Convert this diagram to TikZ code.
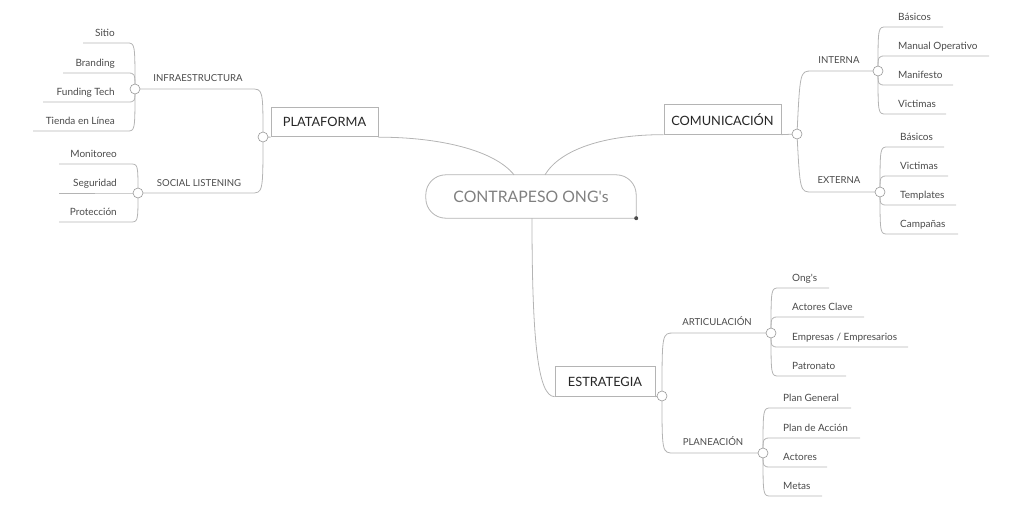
\documentclass[tikz,border=0pt]{standalone}
\usepackage{fontspec}
\setmainfont{Lato}
\usetikzlibrary{backgrounds}
\definecolor{linegray}{HTML}{B4B4B4}
\definecolor{txtgray}{HTML}{4A4A4A}
\begin{document}
\begin{tikzpicture}[x=1pt,y=-1pt,
	link/.style={draw=linegray,line width=.8pt},
	knob/.style={circle,draw=gray!80,fill=white,line width=.6pt,minimum size=10pt,inner sep=0pt},
	topic/.style={draw=linegray,line width=.8pt,fill=white,minimum height=29.5pt,inner sep=0pt,font=\fontsize{12.8}{14}\selectfont,text=black!85},
	sub/.style={anchor=base,font=\fontsize{9.6}{11}\selectfont,text=txtgray},
	leaf/.style={font=\fontsize{10}{12}\selectfont,text=txtgray,inner sep=0pt}]
	\useasboundingbox (0,0) rectangle (1013,515);
	\node[minimum width=210pt,minimum height=43pt,font=\fontsize{15.8}{18}\selectfont,text=black!50] (root) at (531,196.5) {CONTRAPESO ONG\textquotesingle s};
	\draw[link,rounded corners=20pt] (root.south east) -- (root.south west) -- (root.north west) -- (root.north east) -- (root.south east);
	\fill[black!70] (root.south east) circle (2pt);
	\node[topic,minimum width=107pt] (plat) at (324.5,122) {PLATAFORMA};
	\node[topic,minimum width=117pt] (comm) at (722.5,119.5) {COMUNICACIÓN};
	\node[topic,minimum width=100pt] (estr) at (605,381.5) {ESTRATEGIA};
	\node[knob] (pk) at (263,137) {};
	\node[knob] (ck) at (797,134) {};
	\node[knob] (ek) at (662,396) {};
	\node[knob] (infk) at (135,89) {};
	\node[knob] (sock) at (138,193) {};
	\node[knob] (intk) at (878,71) {};
	\node[knob] (extk) at (880,192) {};
	\node[knob] (artk) at (771,333) {};
	\node[knob] (plank) at (763,453) {};
	\node[sub] (inf) at (198,81) {INFRAESTRUCTURA};
	\node[sub] (soc) at (199,186) {SOCIAL LISTENING};
	\node[sub] (int) at (839,63.5) {INTERNA};
	\node[sub] (ext) at (839,183.5) {EXTERNA};
	\node[sub] (art) at (717,325.5) {ARTICULACIÓN};
	\node[sub] (plan) at (713,445.5) {PLANEACIÓN};
	\begin{scope}[on background layer]
	\draw[link] ([xshift=-17pt]root.north) .. controls +(-20,-25) and +(60,0) .. (plat.south east);
	\draw[link] ([xshift=14pt]root.north) .. controls +(15,-25) and +(-60,0) .. (comm.south west);
	\draw[link] ([xshift=1pt]root.south) .. controls +(0,120) and +(-17,0) .. (estr.south west);
	\draw[link] (pk.center) -- (plat.south west);
	\draw[link] (comm.south east) -- (ck.center);
	\draw[link] (estr.south east) -- (ek.center);
	\draw[link] (pk.center) .. controls (263,89) .. (251,89) -- (infk.center);
	\draw[link] (pk.center) .. controls (263,193) .. (251,193) -- (sock.center);
	\draw[link] (ck.center) .. controls (800,71) .. (812,71) -- (intk.center);
	\draw[link] (ck.center) .. controls (800,192) .. (812,192) -- (extk.center);
	\draw[link] (ek.center) .. controls (662,333) .. (674,333) -- (artk.center);
	\draw[link] (ek.center) .. controls (662,453) .. (674,453) -- (plank.center);
	\foreach \t/\ly/\xl [count=\i] in {Sitio/43/83,Branding/73/63,Funding Tech/102/43,Tienda en Línea/131/33}{
		\node[leaf,anchor=base east] (inf\i) at (115,\ly-7) {\t};
		\coordinate (inf\i x) at (\xl,\ly);
		\draw[link] (infk.center) .. controls (135,\ly) .. (127,\ly) -- (inf\i x);
	}
	\foreach \t/\ly [count=\i] in {Monitoreo/164,Seguridad/193,Protección/222}{
		\node[leaf,anchor=base east] (soc\i) at (117,\ly-7) {\t};
		\coordinate (soc\i x) at (59,\ly);
		\draw[link] (sock.center) .. controls (138,\ly) .. (130,\ly) -- (soc\i x);
	}
	\foreach \t/\ly/\xr [count=\i] in {Básicos/27/943,Manual Operativo/56/989,Manifesto/85/953,Victimas/114/946}{
		\node[leaf,anchor=base west] (int\i) at (898,\ly-7) {\t};
		\coordinate (int\i x) at (\xr,\ly);
		\draw[link] (intk.center) .. controls (878,\ly) .. (886,\ly) -- (int\i x);
	}
	\foreach \t/\ly/\xr [count=\i] in {Básicos/147/944,Victimas/176/948,Templates/205/956,Campañas/234/958}{
		\node[leaf,anchor=base west] (ext\i) at (900,\ly-7) {\t};
		\coordinate (ext\i x) at (\xr,\ly);
		\draw[link] (extk.center) .. controls (880,\ly) .. (888,\ly) -- (ext\i x);
	}
	\foreach \t/\ly/\xr [count=\i] in {Ong\textquotesingle s/288/829,Actores Clave/317/864,{Empresas / Empresarios}/347/908,Patronato/376/846}{
		\node[leaf,anchor=base west] (art\i) at (792,\ly-7) {\t};
		\coordinate (art\i x) at (\xr,\ly);
		\draw[link] (artk.center) .. controls (771,\ly) .. (779,\ly) -- (art\i x);
	}
	\foreach \t/\ly/\xr [count=\i] in {Plan General/408/851,Plan de Acción/438/860,Actores/467/827,Metas/496/822}{
		\node[leaf,anchor=base west] (plan\i) at (783,\ly-7) {\t};
		\coordinate (plan\i x) at (\xr,\ly);
		\draw[link] (plank.center) .. controls (763,\ly) .. (771,\ly) -- (plan\i x);
	}
	\end{scope}
\end{tikzpicture}
\end{document}
